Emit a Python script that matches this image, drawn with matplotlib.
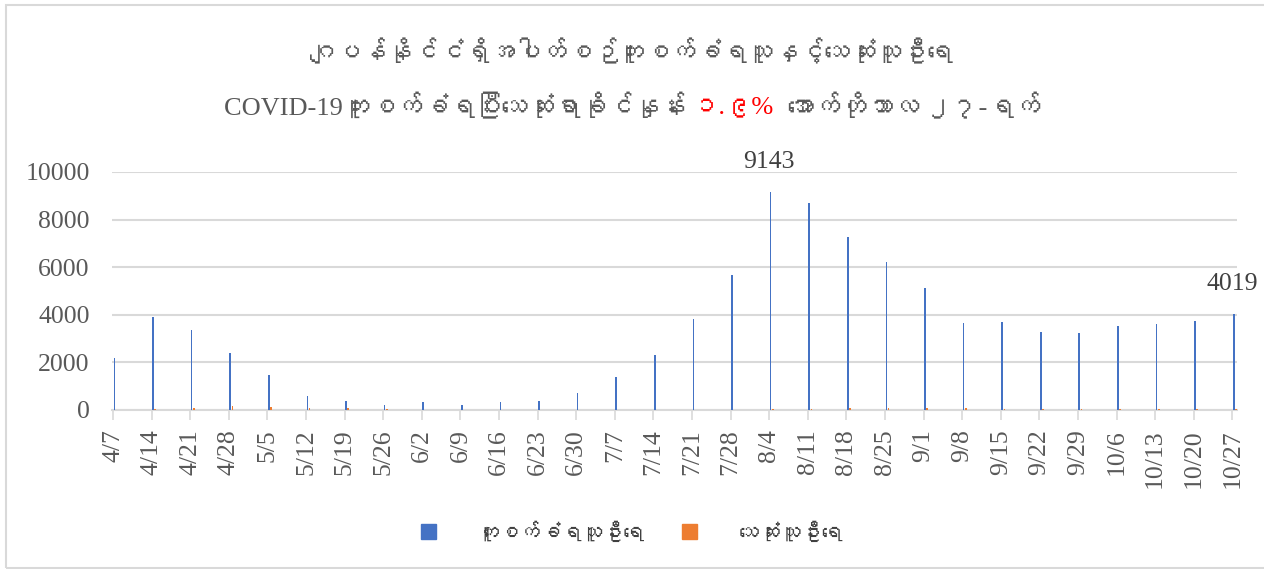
import matplotlib
matplotlib.use("Agg")
import matplotlib.pyplot as plt
from matplotlib import font_manager
from matplotlib.ft2font import FT2Font
from matplotlib.patches import Rectangle
import numpy as np

# weekly data, Japan
dates = ["4/7", "4/14", "4/21", "4/28", "5/5", "5/12", "5/19", "5/26", "6/2", "6/9",
         "6/16", "6/23", "6/30", "7/7", "7/14", "7/21", "7/28", "8/4", "8/11", "8/18",
         "8/25", "9/1", "9/8", "9/15", "9/22", "9/29", "10/6", "10/13", "10/20", "10/27"]
cases = [2180, 3900, 3370, 2400, 1470, 575, 365, 210, 320, 210,
         320, 380, 700, 1390, 2300, 3815, 5680, 9143, 8680, 7265,
         6210, 5120, 3660, 3715, 3270, 3225, 3520, 3620, 3745, 4019]
deaths = [20, 40, 70, 150, 120, 90, 80, 50, 20, 10,
          10, 5, 5, 5, 5, 10, 20, 30, 50, 80,
          90, 100, 80, 60, 50, 40, 40, 30, 30, 40]

title1 = "ဂျပန်နိုင်ငံရှိအပါတ်စဉ်ကူးစက်ခံရသူနှင့်သေဆုံးသူဦးရေ"
title2a = "COVID-19ကူးစက်ခံရပြီးသေဆုံးရာခိုင်နှုန်း "
title2b = "၁.၉%"
title2c = "  အောက်တိုဘာလ ၂၇-ရက်"
legend_names = ["ကူးစက်ခံရသူဦးရေ", "သေဆုံးသူဦးရေ"]


def find_myanmar_font():
    # look for any installed font that has Myanmar glyphs
    for f in font_manager.fontManager.ttflist:
        try:
            cmap = FT2Font(f.fname).get_charmap()
        except Exception:
            continue
        if 0x1000 in cmap and 0x1031 in cmap:
            return f.name
    return None


mm_font = find_myanmar_font()
mm_family = ["Liberation Serif", mm_font, "DejaVu Sans"] if mm_font else ["Liberation Serif", "DejaVu Sans"]

plt.rcParams["font.family"] = ["Liberation Serif", "DejaVu Serif"]
grey = "#595959"

fig = plt.figure(figsize=(12.64, 5.69), dpi=100)
ax = fig.add_axes([112 / 1264, 1 - 410 / 569, 1125 / 1264, 238 / 569])

days = np.arange(len(dates)) * 7
ax.bar(days + 0.25, cases, width=0.3, color="#4472C4", align="center", zorder=3)
ax.bar(days + 0.65, deaths, width=0.3, color="#ED7D31", align="center", zorder=3)

ax.set_ylim(0, 10000)
ax.set_xlim(-0.2, days[-1] + 0.85)
ax.set_yticks(range(0, 10001, 2000))
ax.set_xticks(days)
ax.set_xticklabels(dates, rotation=90, fontsize=18.5, color=grey)
ax.tick_params(axis="y", length=0, labelsize=18.5, labelcolor=grey, pad=16)
ax.tick_params(axis="x", length=7, width=1.2, color="#D9D9D9", pad=7)
ax.grid(axis="y", color="#D9D9D9", linewidth=1.5, zorder=0)
for s in ["top", "right", "left"]:
    ax.spines[s].set_visible(False)
ax.spines["bottom"].set_color("#D9D9D9")
ax.spines["bottom"].set_linewidth(1.5)

# data labels for peak and last week
for i in [17, 29]:
    ax.annotate(str(cases[i]), (days[i], cases[i]), xytext=(0, 14), textcoords="offset points",
                ha="center", va="bottom", fontsize=18.5, color="#404040")

# titles
fig.text(0.5, 1 - 52 / 569, title1, ha="center", va="center", fontsize=18.5, color=grey, family=mm_family)
t_a = fig.text(0.0, 1 - 107 / 569, title2a, ha="left", va="center", fontsize=19, color=grey, family=mm_family)
t_b = fig.text(0.0, 1 - 107 / 569, title2b, ha="left", va="center", fontsize=19, color="red", family=mm_family)
t_c = fig.text(0.0, 1 - 107 / 569, title2c, ha="left", va="center", fontsize=19, color=grey, family=mm_family)
fig.canvas.draw()
r = fig.canvas.get_renderer()
wa = t_a.get_window_extent(r).width
wb = t_b.get_window_extent(r).width
wc = t_c.get_window_extent(r).width
x0 = (1264 - (wa + wb + wc)) / 2
t_a.set_x(x0 / 1264)
t_b.set_x((x0 + wa) / 1264)
t_c.set_x((x0 + wa + wb) / 1264)

# legend
handles = [Rectangle((0, 0), 1, 1, color="#4472C4"), Rectangle((0, 0), 1, 1, color="#ED7D31")]
fig.legend(handles, legend_names, loc="center", bbox_to_anchor=(0.5, 1 - 533 / 569), ncol=2,
           frameon=False, prop={"family": mm_family, "size": 15}, labelcolor="#404040",
           handlelength=0.7, handleheight=0.7, handletextpad=2.0, columnspacing=1.8)

# chart border
fig.patches.append(Rectangle((6 / 1264, 1 / 569), 1.2, 563 / 569, transform=fig.transFigure,
                             fill=False, edgecolor="#D9D9D9", linewidth=1.5))

fig.savefig("out.png", dpi=100)
